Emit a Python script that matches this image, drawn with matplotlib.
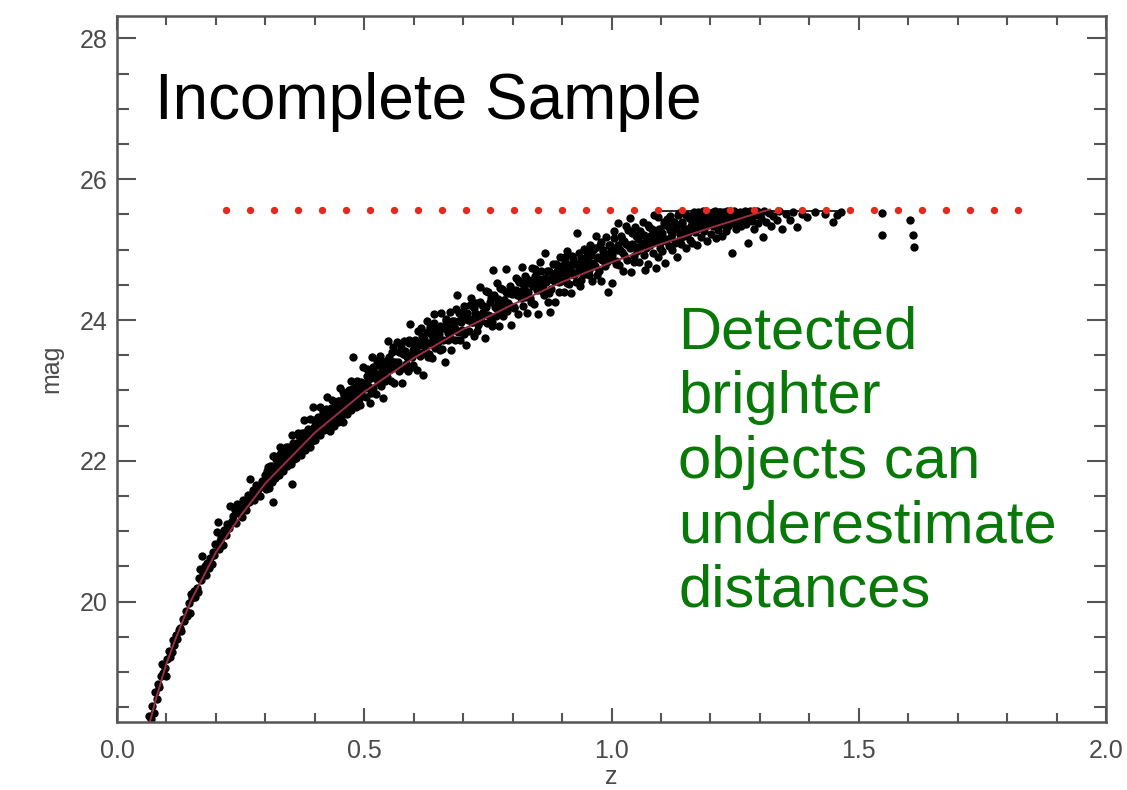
import matplotlib.pyplot as plt
import numpy as np

plt.rcParams['font.family'] = ['Liberation Sans', 'DejaVu Sans']

# fitted curve (dark red line)
z_curve = [0.065, 0.08, 0.10, 0.12, 0.15, 0.20, 0.25, 0.30, 0.40, 0.50, 0.60,
           0.70, 0.80, 0.90, 1.00, 1.10, 1.20, 1.30, 1.32]
mag_curve = [18.25, 18.65, 19.12, 19.50, 20.02, 20.70, 21.22, 21.68, 22.40, 22.98,
             23.46, 23.87, 24.22, 24.54, 24.82, 25.08, 25.31, 25.53, 25.57]

# detected objects, split by redshift range
z_low = [0.064, 0.068, 0.071, 0.074, 0.077, 0.080, 0.082, 0.085, 0.088, 0.091,
         0.094, 0.097, 0.100, 0.102, 0.105, 0.108, 0.111, 0.113, 0.116, 0.119,
         0.122, 0.125, 0.127, 0.130, 0.133, 0.136, 0.139, 0.142, 0.145, 0.147,
         0.149, 0.152, 0.155, 0.158, 0.161, 0.164, 0.166, 0.168, 0.170, 0.172,
         0.174, 0.177, 0.180, 0.183, 0.186, 0.189, 0.192, 0.194, 0.197, 0.199,
         0.202, 0.204, 0.206, 0.208, 0.211, 0.214, 0.217, 0.220, 0.223, 0.226,
         0.229, 0.232, 0.235, 0.238, 0.240, 0.243, 0.246, 0.249, 0.252, 0.255,
         0.258, 0.261, 0.264, 0.266, 0.269, 0.272, 0.275, 0.278, 0.281, 0.284,
         0.287, 0.290, 0.293, 0.296, 0.299]
mag_low = [18.38, 18.33, 18.52, 18.42, 18.71, 18.62, 18.83, 18.79, 18.95, 19.12,
           18.98, 19.05, 18.94, 19.18, 19.30, 19.22, 19.28, 19.45, 19.38, 19.52,
           19.47, 19.60, 19.63, 19.58, 19.76, 19.72, 19.86, 19.80, 19.98, 19.84,
           20.11, 20.05, 20.15, 20.06, 20.20, 20.14, 20.33, 20.47, 20.30, 20.65,
           20.40, 20.50, 20.38, 20.55, 20.48, 20.62, 20.54, 20.70, 20.66, 20.82,
           20.99, 21.13, 20.75, 20.86, 20.92, 20.80, 21.02, 20.95, 21.10, 21.05,
           21.36, 21.15, 21.22, 21.30, 21.12, 21.39, 21.26, 21.33, 21.20, 21.45,
           21.36, 21.30, 21.52, 21.42, 21.74, 21.48, 21.58, 21.45, 21.66, 21.55,
           21.62, 21.50, 21.72, 21.64, 21.80]

z_mid = [0.301, 0.303, 0.305, 0.307, 0.309, 0.311, 0.313, 0.316, 0.316, 0.318,
         0.320, 0.322, 0.324, 0.326, 0.328, 0.330, 0.332, 0.334, 0.336, 0.338,
         0.340, 0.342, 0.344, 0.346, 0.348, 0.350, 0.352, 0.354, 0.356, 0.358,
         0.360, 0.362, 0.364, 0.366, 0.368, 0.370, 0.372, 0.374, 0.376, 0.378,
         0.380, 0.382, 0.384, 0.386, 0.388, 0.390, 0.392, 0.394, 0.397, 0.399,
         0.401, 0.403, 0.405, 0.407, 0.409, 0.411, 0.413, 0.415, 0.417, 0.419,
         0.421, 0.424, 0.426, 0.428, 0.430, 0.432, 0.434, 0.436, 0.438, 0.440,
         0.442, 0.444, 0.446, 0.448, 0.450, 0.452, 0.454, 0.457, 0.459, 0.461,
         0.463, 0.465, 0.467, 0.469, 0.471, 0.473, 0.475, 0.478, 0.480, 0.482,
         0.484, 0.486, 0.488, 0.490, 0.492, 0.494, 0.496, 0.498]
mag_mid = [21.60, 21.85, 21.72, 21.62, 21.93, 21.78, 21.70, 21.41, 22.07, 21.88,
           21.76, 22.02, 21.84, 21.95, 21.80, 22.10, 21.90, 22.00, 21.86, 22.15,
           21.96, 22.08, 21.92, 22.20, 22.02, 22.12, 21.96, 21.67, 22.25, 22.10,
           22.18, 22.04, 22.26, 22.14, 22.35, 22.20, 22.08, 22.30, 22.22, 22.40,
           22.16, 22.33, 22.26, 22.45, 22.30, 22.20, 22.42, 22.34, 22.77, 22.48,
           22.30, 22.55, 22.40, 22.62, 22.46, 22.36, 22.58, 22.50, 22.70, 22.44,
           22.60, 22.91, 22.52, 22.66, 22.42, 22.75, 22.58, 22.68, 22.50, 22.80,
           22.62, 22.72, 22.55, 22.85, 22.68, 22.78, 22.62, 22.55, 22.92, 22.74,
           22.84, 22.66, 22.98, 22.78, 22.90, 22.72, 23.02, 23.48, 22.82, 22.95,
           22.76, 23.08, 22.88, 22.98, 22.80, 23.12, 22.92, 23.04]

z_upper = [0.501, 0.5035, 0.506, 0.5085, 0.511, 0.5135, 0.516, 0.5185,
           0.521, 0.5235, 0.526, 0.5285, 0.531, 0.5335, 0.536, 0.5385,
           0.541, 0.5435, 0.546, 0.5485, 0.551, 0.5535, 0.556, 0.5585,
           0.561, 0.5635, 0.566, 0.5685, 0.571, 0.5735, 0.576, 0.5785,
           0.581, 0.5835, 0.586, 0.5885, 0.591, 0.5935, 0.596, 0.5985,
           0.601, 0.6035, 0.606, 0.6085, 0.611, 0.6135, 0.616, 0.6185,
           0.621, 0.6235, 0.626, 0.6285, 0.631, 0.6335, 0.636, 0.6385,
           0.641, 0.6435, 0.646, 0.6485, 0.651, 0.6535, 0.656, 0.6585,
           0.661, 0.6635, 0.666, 0.6685, 0.671, 0.6735, 0.676, 0.6785,
           0.681, 0.6835, 0.686, 0.6885, 0.691, 0.6935, 0.696, 0.6985,
           0.701, 0.7035, 0.706, 0.7085, 0.711, 0.7135, 0.716, 0.7185,
           0.721, 0.7235, 0.726, 0.7285, 0.731, 0.7335, 0.736, 0.7385,
           0.741, 0.7435, 0.746, 0.7485, 0.751, 0.7535, 0.756, 0.7585,
           0.761, 0.7635, 0.766, 0.7685, 0.771, 0.7735, 0.776, 0.7785,
           0.781, 0.7835, 0.786, 0.7885, 0.791, 0.7935, 0.796, 0.7985]
mag_upper = [23.10, 22.90, 23.31, 23.07, 22.82, 23.23, 23.48, 23.03,
             23.17, 22.95, 23.36, 23.12, 23.49, 23.07, 23.31, 22.89,
             23.29, 23.42, 23.19, 23.70, 23.30, 23.13, 23.54, 23.41,
             23.11, 23.33, 23.69, 23.41, 23.27, 23.54, 23.10, 23.52,
             23.70, 23.38, 23.51, 23.27, 23.68, 23.95, 23.48, 23.36,
             23.66, 23.55, 23.29, 23.84, 23.64, 23.49, 23.77, 23.22,
             23.73, 23.58, 23.98, 23.48, 23.68, 23.90, 23.46, 23.75,
             24.09, 23.60, 23.87, 23.69, 23.80, 23.58, 24.10, 23.72,
             23.89, 23.41, 23.98, 23.72, 23.89, 24.11, 23.58, 23.86,
             23.99, 23.72, 23.86, 24.35, 24.10, 23.71, 23.97, 23.86,
             24.20, 24.05, 23.64, 24.10, 23.85, 24.01, 24.31, 23.97,
             23.77, 24.10, 24.24, 23.85, 24.04, 24.47, 23.98, 24.22,
             24.12, 23.75, 24.18, 23.96, 24.40, 24.06, 24.31, 23.92,
             24.71, 24.18, 24.06, 24.53, 24.30, 23.91, 24.19, 24.44,
             24.06, 24.29, 24.72, 24.13, 24.39, 24.22, 23.93, 24.37]

z_high = [0.801, 0.8035, 0.806, 0.8085, 0.811, 0.8135, 0.816, 0.8185,
          0.821, 0.8235, 0.826, 0.8285, 0.831, 0.8335, 0.836, 0.8385,
          0.841, 0.8435, 0.846, 0.8485, 0.851, 0.8535, 0.856, 0.8585,
          0.861, 0.8635, 0.866, 0.8685, 0.871, 0.8735, 0.876, 0.8785,
          0.881, 0.8835, 0.886, 0.8885, 0.891, 0.8935, 0.896, 0.8985,
          0.901, 0.9035, 0.906, 0.9085, 0.911, 0.9135, 0.916, 0.9185,
          0.921, 0.9235, 0.926, 0.9285, 0.931, 0.9335, 0.936, 0.9385,
          0.941, 0.9435, 0.946, 0.9485, 0.951, 0.9535, 0.956, 0.9585,
          0.961, 0.9635, 0.966, 0.9685, 0.971, 0.9735, 0.976, 0.9785,
          0.981, 0.9835, 0.986, 0.9885, 0.991, 0.993, 0.996, 0.9985,
          1.001, 1.0035, 1.006, 1.0085, 1.011, 1.013, 1.016, 1.0185,
          1.021, 1.0235, 1.026, 1.0285, 1.031, 1.0335, 1.037, 1.0385,
          1.041, 1.0435, 1.046, 1.0485, 1.051, 1.0535, 1.056, 1.0585,
          1.061, 1.0635, 1.066, 1.068, 1.071, 1.0735, 1.076, 1.0785,
          1.081, 1.0835, 1.086, 1.089, 1.091, 1.0935, 1.096, 1.0985]
mag_high = [24.43, 24.18, 24.60, 24.35, 24.09, 24.54, 24.32, 24.75,
            24.20, 24.45, 24.62, 24.10, 24.40, 24.54, 24.32, 24.74,
            24.48, 24.23, 24.62, 24.43, 24.09, 24.58, 24.83, 24.41,
            24.56, 24.35, 24.95, 24.54, 24.26, 24.69, 24.12, 24.44,
            24.65, 24.56, 24.25, 24.80, 24.62, 24.40, 24.90, 24.56,
            24.74, 24.40, 24.82, 24.63, 24.98, 24.51, 24.72, 24.39,
            24.91, 24.64, 24.79, 24.54, 25.24, 24.74, 24.49, 24.88,
            24.67, 25.01, 24.65, 24.83, 24.89, 24.64, 25.06, 24.81,
            24.55, 24.99, 24.77, 25.20, 24.64, 24.90, 25.07, 24.55,
            24.86, 24.99, 24.77, 25.18, 24.92, 24.40, 25.06, 24.87,
            24.53, 25.01, 25.27, 24.84, 24.99, 25.38, 24.78, 25.20,
            24.97, 24.69, 25.12, 25.34, 24.86, 25.07, 25.45, 24.68,
            25.23, 25.05, 24.83, 25.32, 24.98, 25.15, 24.82, 25.24,
            25.05, 25.40, 24.93, 24.71, 25.14, 24.80, 25.32, 25.06,
            25.21, 24.95, 25.49, 24.74, 25.16, 24.90, 25.29, 25.09]

z_far = [1.101, 1.103, 1.106, 1.108, 1.111, 1.113, 1.116, 1.118,
         1.121, 1.123, 1.126, 1.128, 1.131, 1.132, 1.136, 1.138,
         1.141, 1.143, 1.146, 1.148, 1.151, 1.153, 1.156, 1.158,
         1.161, 1.163, 1.166, 1.168, 1.171, 1.173, 1.176, 1.178,
         1.181, 1.183, 1.186, 1.188, 1.191, 1.193, 1.196, 1.198,
         1.201, 1.204, 1.206, 1.209, 1.211, 1.214, 1.216, 1.219,
         1.221, 1.224, 1.226, 1.229, 1.231, 1.234, 1.236, 1.239,
         1.241, 1.243, 1.246, 1.248, 1.251, 1.254, 1.256, 1.259,
         1.261, 1.264, 1.266, 1.269, 1.271, 1.274, 1.276, 1.279,
         1.281, 1.284, 1.286, 1.289, 1.291, 1.294, 1.296, 1.299,
         1.302, 1.306, 1.309, 1.313, 1.318, 1.322, 1.327, 1.334,
         1.338, 1.345, 1.352, 1.361, 1.368, 1.375, 1.385, 1.395,
         1.412, 1.432, 1.448, 1.456, 1.465, 1.547, 1.547, 1.604,
         1.610, 1.612]
mag_far = [25.20, 24.98, 25.35, 24.81, 25.12, 25.44, 25.05, 25.28,
           25.18, 24.99, 25.40, 25.10, 25.30, 24.90, 25.52, 25.22,
           25.08, 25.36, 25.19, 25.50, 25.02, 25.29, 25.45, 25.14,
           25.33, 25.10, 25.54, 25.25, 25.41, 25.06, 25.31, 25.48,
           25.18, 25.38, 25.55, 25.26, 25.44, 25.12, 25.35, 25.52,
           25.22, 25.47, 25.34, 25.55, 25.16, 25.40, 25.28, 25.53,
           25.36, 25.20, 25.50, 25.42, 25.27, 25.55, 25.33, 25.46,
           25.52, 24.95, 25.38, 25.55, 25.29, 25.47, 25.40, 25.54,
           25.33, 25.50, 25.44, 25.55, 25.37, 25.52, 25.09, 25.46,
           25.55, 25.41, 25.53, 25.30, 25.49, 25.55, 25.38, 25.51,
           25.45, 25.18, 25.55, 25.40, 25.52, 25.34, 25.48, 25.42,
           25.55, 25.30, 25.50, 25.42, 25.53, 25.32, 25.50, 25.46,
           25.54, 25.50, 25.39, 25.49, 25.53, 25.52, 25.21, 25.42,
           25.21, 25.04]

# dense core of the band (second pass of readings)
z_core = [0.302, 0.306, 0.310, 0.314, 0.318, 0.322, 0.326, 0.330, 0.334, 0.338,
          0.342, 0.346, 0.350, 0.354, 0.358, 0.362, 0.366, 0.370, 0.374, 0.378,
          0.382, 0.386, 0.390, 0.394, 0.398, 0.402, 0.406, 0.410, 0.414, 0.418,
          0.422, 0.426, 0.430, 0.434, 0.438, 0.442, 0.446, 0.450, 0.454, 0.458,
          0.462, 0.466, 0.470, 0.474, 0.478, 0.482, 0.486, 0.490, 0.494, 0.498,
          0.502, 0.506, 0.510, 0.514, 0.518, 0.522, 0.526, 0.530, 0.534, 0.538,
          0.542, 0.546, 0.550, 0.554, 0.558, 0.562, 0.566, 0.570, 0.574, 0.578,
          0.582, 0.586, 0.590, 0.594, 0.598, 0.602, 0.606, 0.610, 0.614, 0.618,
          0.622, 0.626, 0.630, 0.634, 0.638, 0.642, 0.646, 0.650, 0.654, 0.658,
          0.662, 0.666, 0.670, 0.674, 0.678, 0.682, 0.686, 0.690, 0.694, 0.698,
          0.702, 0.706, 0.710, 0.714, 0.718, 0.722, 0.726, 0.730, 0.734, 0.738,
          0.742, 0.746, 0.750, 0.754, 0.758, 0.762, 0.766, 0.770, 0.774, 0.778,
          0.782, 0.786, 0.790, 0.794, 0.798, 0.802, 0.806, 0.810, 0.814, 0.818,
          0.822, 0.826, 0.830, 0.834, 0.838, 0.842, 0.846, 0.850, 0.854, 0.858,
          0.862, 0.866, 0.870, 0.874, 0.878, 0.882, 0.886, 0.890, 0.894, 0.898,
          0.902, 0.906, 0.910, 0.914, 0.918, 0.922, 0.926, 0.930, 0.934, 0.938,
          0.942, 0.946, 0.950, 0.954, 0.958, 0.962, 0.966, 0.970, 0.974, 0.978,
          0.982, 0.986, 0.990, 0.994, 0.998, 1.002, 1.006, 1.010, 1.014, 1.018,
          1.022, 1.026, 1.030, 1.034, 1.038, 1.042, 1.046, 1.050, 1.054, 1.058,
          1.062, 1.066, 1.070, 1.074, 1.078, 1.082, 1.086, 1.090, 1.094, 1.098,
          1.102, 1.106, 1.110, 1.114, 1.118, 1.122, 1.126, 1.130, 1.134, 1.138,
          1.142, 1.146, 1.150, 1.154, 1.158, 1.162, 1.166, 1.170, 1.174, 1.178,
          1.182, 1.186, 1.190, 1.194, 1.198, 1.202, 1.206, 1.210, 1.214, 1.218,
          1.222, 1.226, 1.230, 1.234, 1.238, 1.242, 1.246, 1.250, 1.254, 1.258]
mag_core = [21.76, 21.91, 21.72, 21.92, 22.07, 21.78, 22.04, 22.19, 21.98, 22.08,
            22.20, 22.00, 22.17, 22.37, 22.02, 22.21, 22.39, 22.14, 22.39, 22.58,
            22.30, 22.44, 22.59, 22.28, 22.58, 22.50, 22.40, 22.76, 22.62, 22.55,
            22.74, 22.64, 22.51, 22.86, 22.75, 22.63, 22.85, 23.03, 22.77, 22.98,
            22.88, 22.69, 23.01, 23.13, 22.87, 23.03, 23.14, 22.88, 23.05, 23.33,
            23.03, 23.21, 23.16, 22.97, 23.34, 23.25, 23.42, 23.13, 23.24, 23.39,
            23.13, 23.35, 23.48, 23.31, 23.62, 23.41, 23.33, 23.54, 23.62, 23.32,
            23.56, 23.48, 23.72, 23.34, 23.58, 23.71, 23.54, 23.67, 23.89, 23.53,
            23.66, 23.83, 23.52, 23.80, 23.69, 23.96, 23.79, 23.70, 23.92, 23.59,
            23.89, 24.01, 23.81, 23.74, 23.99, 23.91, 24.16, 23.83, 24.00, 24.11,
            23.80, 24.08, 24.00, 24.22, 23.97, 24.17, 24.09, 23.93, 24.26, 24.08,
            24.18, 24.41, 24.07, 24.26, 23.97, 24.35, 24.17, 24.26, 24.46, 24.12,
            24.28, 24.40, 24.24, 24.49, 24.38, 24.17, 24.42, 24.57, 24.36, 24.52,
            24.43, 24.33, 24.59, 24.52, 24.25, 24.57, 24.73, 24.46, 24.53, 24.69,
            24.46, 24.60, 24.70, 24.39, 24.58, 24.79, 24.58, 24.70, 24.54, 24.77,
            24.68, 24.90, 24.53, 24.78, 24.68, 24.87, 24.67, 24.79, 24.95, 24.57,
            24.84, 24.77, 24.96, 24.71, 24.92, 24.79, 25.02, 24.88, 24.70, 25.11,
            24.98, 24.90, 24.83, 25.06, 24.98, 24.92, 25.16, 24.79, 25.07, 24.99,
            25.15, 24.93, 25.08, 25.28, 25.02, 25.08, 24.91, 25.19, 25.04, 25.27,
            25.10, 25.21, 25.02, 25.35, 25.19, 25.29, 25.11, 25.24, 25.46, 25.03,
            25.23, 25.39, 25.15, 25.33, 25.48, 25.22, 25.39, 25.32, 25.49, 25.15,
            25.39, 25.29, 25.49, 25.24, 25.48, 25.39, 25.49, 25.32, 25.54, 25.38,
            25.47, 25.33, 25.53, 25.43, 25.49, 25.41, 25.53, 25.36, 25.49, 25.54,
            25.44, 25.53, 25.35, 25.50, 25.44, 25.52, 25.43, 25.52, 25.38, 25.52]

# magnitude limit of the survey (red dotted line)
mag_limit = 25.57
limit_z_range = [0.22, 1.83]
cut_z_range = [1.09, 1.47]

z_obs = np.concatenate([z_low, z_mid, z_upper, z_high, z_far, z_core])
mag_obs = np.concatenate([mag_low, mag_mid, mag_upper, mag_high, mag_far, mag_core])

fig = plt.figure(figsize=(11.27, 7.9), dpi=100)
ax = fig.add_axes([0.1038, 0.0861, 0.8776, 0.8937])

ax.scatter(z_obs, mag_obs, s=36, c='black', linewidths=0, zorder=2)
ax.hlines(mag_limit - 0.02, *cut_z_range, color='black', lw=1.2, zorder=2)
ax.plot(z_curve, mag_curve, color='#9b2d45', lw=1.4, zorder=3)
ax.hlines(mag_limit, *limit_z_range, color='#e8281c', lw=5.3,
          linestyles=[(0, (0.01, 3.25))], capstyle='round', zorder=4)

ax.set_xlim(0, 2.0)
ax.set_ylim(18.29, 28.32)
ax.set_xticks([0.0, 0.5, 1.0, 1.5, 2.0])
ax.set_xticks(np.arange(0, 2.01, 0.1), minor=True)
ax.set_yticks([20, 22, 24, 26, 28])
ax.set_yticks(np.arange(18.5, 28.3, 0.5), minor=True)
ax.xaxis.set_major_formatter(plt.FormatStrFormatter('%.1f'))

frame = '#555555'
for sp in ax.spines.values():
    sp.set_color(frame)
    sp.set_linewidth(1.8)
ax.tick_params(which='both', direction='in', top=True, right=True,
               color=frame, width=1.5, labelcolor='#4a4a4a', labelsize=18)
ax.tick_params(axis='x', which='major', length=10, pad=12)
ax.tick_params(axis='x', which='minor', length=6.5)
ax.tick_params(axis='y', which='major', length=14, pad=7)
ax.tick_params(axis='y', which='minor', length=8.5)

ax.set_xlabel('z', fontsize=18, color='#4a4a4a', labelpad=2)
ax.set_ylabel('mag', fontsize=18, color='#4a4a4a')
ax.yaxis.set_label_coords(-0.054, 0.5)

ax.text(0.077, 26.85, 'Incomplete Sample', fontsize=46, color='black',
        ha='left', va='baseline')
ax.text(1.1345, 19.93, 'Detected\nbrighter\nobjects can\nunderestimate\ndistances',
        fontsize=43, color='#087808', ha='left', va='baseline', linespacing=1.22)

fig.savefig('out.png', dpi=100, facecolor='white')
